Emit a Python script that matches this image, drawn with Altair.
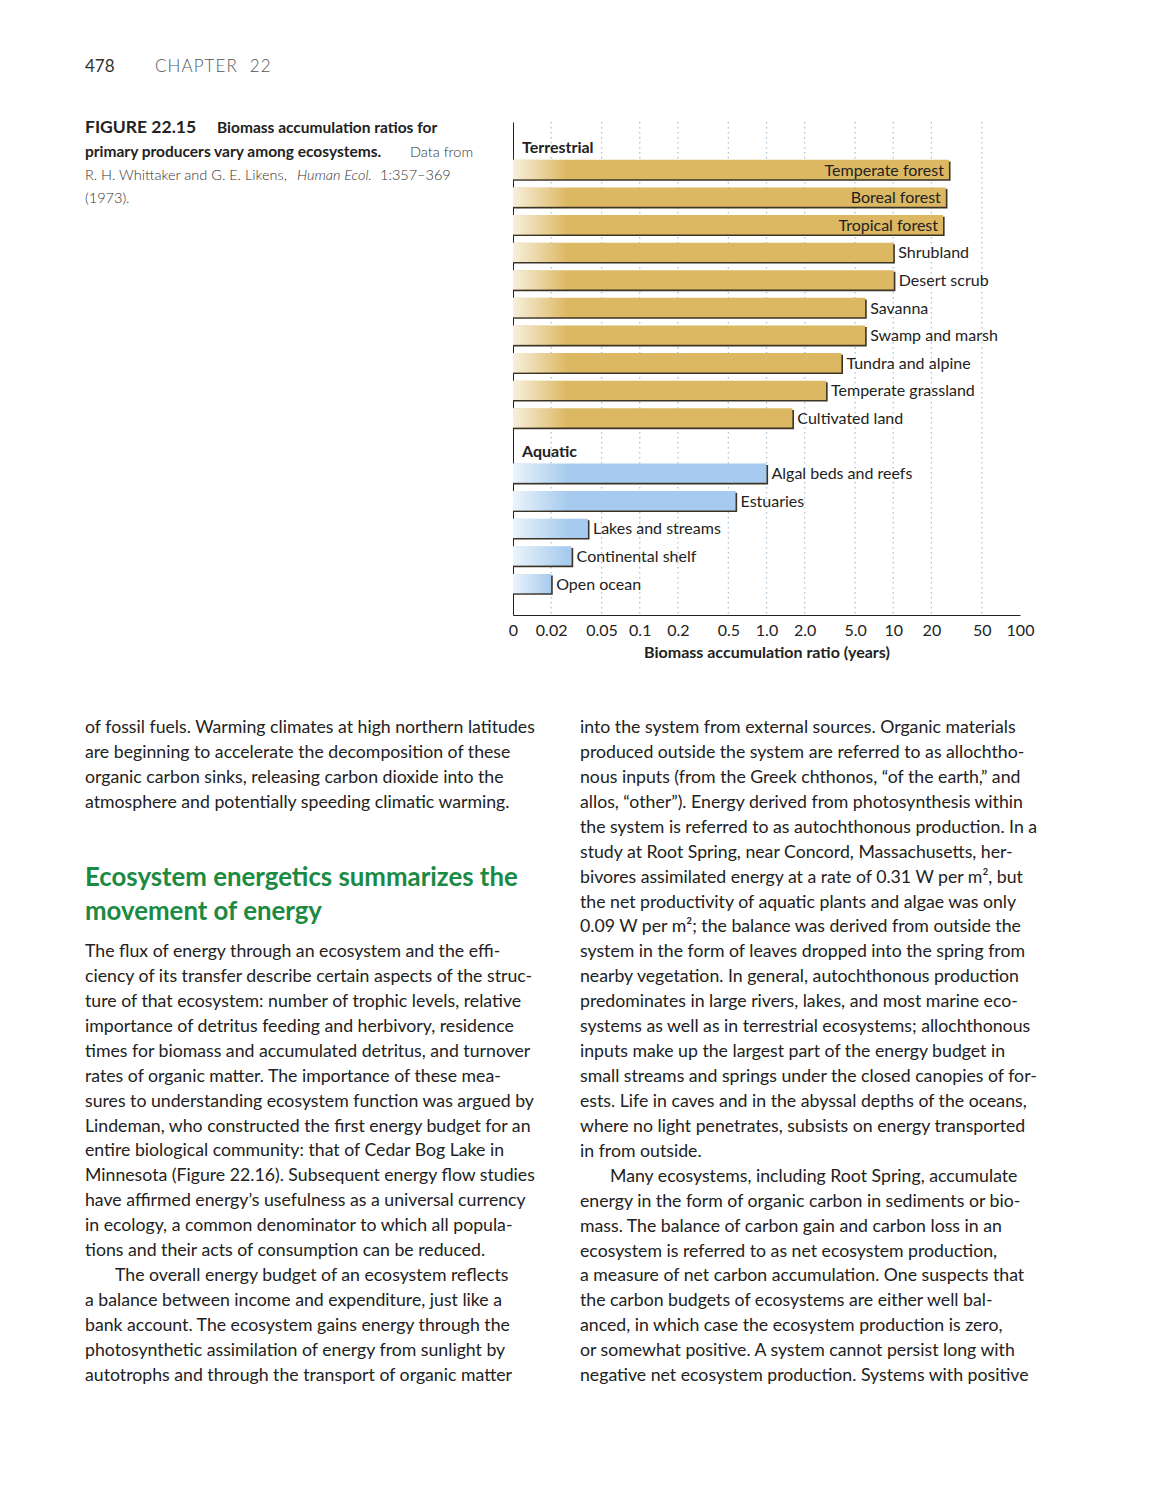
import altair as alt
import pandas as pd

# ---------------- data ----------------
terrestrial = ["Temperate forest", "Boreal forest", "Tropical forest", "Shrubland",
               "Desert scrub", "Savanna", "Swamp and marsh", "Tundra and alpine",
               "Temperate grassland", "Cultivated land"]
terrestrial_values = [27.5, 26.0, 24.7, 10.0, 10.1, 6.0, 6.0, 3.9, 2.95, 1.6]
aquatic = ["Algal beds and reefs", "Estuaries", "Lakes and streams",
           "Continental shelf", "Open ocean"]
aquatic_values = [1.0, 0.57, 0.039, 0.029, 0.020]
group_names = ["Terrestrial", "Aquatic"]

tick_values = [0.01, 0.02, 0.05, 0.1, 0.2, 0.5, 1.0, 2.0, 5.0, 10, 20, 50, 100]
tick_labels = ["0", "0.02", "0.05", "0.1", "0.2", "0.5", "1.0", "2.0", "5.0", "10", "20", "50", "100"]
grid_values = [0.02, 0.05, 0.1, 0.2, 0.5, 1.0, 2.0, 5.0, 10, 20, 50]

x_title = "Biomass accumulation ratio (years)"

page_number = "478"
chapter = "C\u200aH\u200aA\u200aP\u200aT\u200aE\u200aR\u2002 2\u200a2"

left_col_1 = [
    "of fossil fuels. Warming climates at high northern latitudes",
    "are beginning to accelerate the decomposition of these",
    "organic carbon sinks, releasing carbon dioxide into the",
    "atmosphere and potentially speeding climatic warming.",
]
heading = ["Ecosystem energetics summarizes the", "movement of energy"]
left_para_a = [
    "The flux of energy through an ecosystem and the effi-",
    "ciency of its transfer describe certain aspects of the struc-",
    "ture of that ecosystem: number of trophic levels, relative",
    "importance of detritus feeding and herbivory, residence",
    "times for biomass and accumulated detritus, and turnover",
    "rates of organic matter. The importance of these mea-",
    "sures to understanding ecosystem function was argued by",
    "Lindeman, who constructed the first energy budget for an",
    "entire biological community: that of Cedar Bog Lake in",
    "Minnesota (Figure 22.16). Subsequent energy flow studies",
    "have affirmed energy\u2019s usefulness as a universal currency",
    "in ecology, a common denominator to which all popula-",
    "tions and their acts of consumption can be reduced.",
]
left_para_b_first = "The overall energy budget of an ecosystem reflects"
left_para_b = [
    "a balance between income and expenditure, just like a",
    "bank account. The ecosystem gains energy through the",
    "photosynthetic assimilation of energy from sunlight by",
    "autotrophs and through the transport of organic matter",
]
right_para_a = [
    "into the system from external sources. Organic materials",
    "produced outside the system are referred to as allochtho-",
    "nous inputs (from the Greek chthonos, \u201cof the earth,\u201d and",
    "allos, \u201cother\u201d). Energy derived from photosynthesis within",
    "the system is referred to as autochthonous production. In a",
    "study at Root Spring, near Concord, Massachusetts, her-",
    "bivores assimilated energy at a rate of 0.31 W per m\u00b2, but",
    "the net productivity of aquatic plants and algae was only",
    "0.09 W per m\u00b2; the balance was derived from outside the",
    "system in the form of leaves dropped into the spring from",
    "nearby vegetation. In general, autochthonous production",
    "predominates in large rivers, lakes, and most marine eco-",
    "systems as well as in terrestrial ecosystems; allochthonous",
    "inputs make up the largest part of the energy budget in",
    "small streams and springs under the closed canopies of for-",
    "ests. Life in caves and in the abyssal depths of the oceans,",
    "where no light penetrates, subsists on energy transported",
    "in from outside.",
]
right_para_b_first = "Many ecosystems, including Root Spring, accumulate"
right_para_b = [
    "energy in the form of organic carbon in sediments or bio-",
    "mass. The balance of carbon gain and carbon loss in an",
    "ecosystem is referred to as net ecosystem production,",
    "a measure of net carbon accumulation. One suspects that",
    "the carbon budgets of ecosystems are either well bal-",
    "anced, in which case the ecosystem production is zero,",
    "or somewhat positive. A system cannot persist long with",
    "negative net ecosystem production. Systems with positive",
]

# ---------------- layout ----------------
W, H = 507, 493
PAGE_W, PAGE_H = 1156, 1484
PAD_L, PAD_T = 505, 114
LH = 24.93
BODY = 17.7

FONT = "Lato"
CAP_FONT = "Lato"
GOLD = "#dcb862"
BLUE = "#a6cbee"
SHADOW = "#3a3326"
TXT = "#222222"

df = pd.DataFrame({
    "name": terrestrial + aquatic,
    "value": terrestrial_values + aquatic_values,
    "group": [group_names[0]] * len(terrestrial) + [group_names[1]] * len(aquatic),
})
y_domain = [group_names[0]] + terrestrial + [group_names[1]] + aquatic

label_expr = " : ".join(
    f"datum.value == {v} ? '{l}'" for v, l in zip(tick_values, tick_labels)
) + " : ''"

xscale = alt.Scale(type="log", domain=[0.01, 100], nice=False)
yscale = alt.Scale(domain=y_domain, paddingInner=0.3, paddingOuter=0.58, align=0.32)

base = alt.Chart(df)

grid = alt.Chart(pd.DataFrame({"g": grid_values})).mark_rule(
    color="#a9c4d8", strokeDash=[1.5, 3.5], strokeWidth=1.3
).encode(x=alt.X("g:Q", scale=xscale))

shadow = base.mark_bar(color=SHADOW, xOffset=1.6, yOffset=1.6).encode(
    x=alt.X("value:Q", scale=xscale),
    x2=alt.datum(0.01),
    y=alt.Y("name:N", scale=yscale),
)

bars = base.mark_bar().encode(
    x=alt.X("value:Q", scale=xscale,
            axis=alt.Axis(values=tick_values, labelExpr=label_expr, ticks=False,
                          grid=False, domain=True, domainColor=TXT, domainWidth=1,
                          labelFont=FONT, labelFontSize=16, labelColor=TXT,
                          labelPadding=7, labelFlush=False, labelOverlap=False,
                          title=x_title, titleFont=FONT, titleFontSize=16,
                          titleFontWeight="bold", titleColor=TXT, titlePadding=6)),
    x2=alt.datum(0.01),
    y=alt.Y("name:N", scale=yscale,
            axis=alt.Axis(labels=False, ticks=False, grid=False, domain=True,
                          domainColor=TXT, domainWidth=1, title=None)),
    color=alt.Color("group:N", scale=alt.Scale(domain=group_names, range=[GOLD, BLUE]),
                    legend=None),
)

fade = alt.Gradient(
    gradient="linear", x1=0, x2=1, y1=0, y2=0,
    stops=[alt.GradientStop(color="rgba(255,255,255,0.78)", offset=0),
           alt.GradientStop(color="rgba(255,255,255,0)", offset=1)],
)
overlay = base.transform_calculate(ov="min(datum.value, 0.027)").mark_bar(fill=fade).encode(
    x=alt.X("ov:Q", scale=xscale),
    x2=alt.datum(0.01),
    y=alt.Y("name:N", scale=yscale),
)

lab_out = base.transform_filter("datum.value < 15").mark_text(
    align="left", baseline="middle", dx=5, dy=1, font=FONT, fontSize=16, color=TXT
).encode(x=alt.X("value:Q", scale=xscale), y=alt.Y("name:N", scale=yscale), text="name:N")

lab_in = base.transform_filter("datum.value >= 15").mark_text(
    align="right", baseline="middle", dx=-5, dy=1, font=FONT, fontSize=16, color=TXT
).encode(x=alt.X("value:Q", scale=xscale), y=alt.Y("name:N", scale=yscale), text="name:N")

headers = alt.Chart(pd.DataFrame({"h": group_names})).mark_text(
    align="left", baseline="middle", dy=6, font=FONT, fontSize=16, fontWeight="bold", color=TXT
).encode(x=alt.value(9), y=alt.Y("h:N", scale=yscale), text="h:N")


def page_text(lines, px, py, size, weight="normal", color=TXT, font=FONT,
              line_height=LH, style="normal"):
    d = pd.DataFrame({"t": ["\n".join(lines)]})
    return alt.Chart(d).mark_text(
        align="left", baseline="alphabetic", font=font, fontSize=size,
        fontWeight=weight, fontStyle=style, color=color, lineBreak="\n",
        lineHeight=line_height,
    ).encode(x=alt.value(px - 513), y=alt.value(py - 122), text="t:N")


lb = 957 + LH * len(left_para_a)
rb = 733 + LH * len(right_para_a)
annotations = [
    page_text([page_number], 85, 72, 17, color="#333333"),
    page_text([chapter], 155, 72, 17, color="#555555", weight=300),
    page_text(["FIGURE 22.15"], 85, 133, 17.5, weight="bold", font=CAP_FONT),
    page_text(["Biomass accumulation ratios for"], 217, 133, 15.5, weight="bold", font=CAP_FONT),
    page_text(["primary producers vary among ecosystems."], 85, 157, 15.5, weight="bold", font=CAP_FONT),
    page_text(["Data from"], 410, 157, 14.5, weight=300, font=CAP_FONT, color="#333333"),
    page_text(["R. H. Whittaker and G. E. Likens,"], 85, 180, 14.5, weight=300, font=CAP_FONT, color="#333333"),
    page_text(["Human Ecol."], 297, 180, 14.5, weight=300, font=CAP_FONT, color="#333333", style="italic"),
    page_text(["1:357\u2013369"], 380, 180, 14.5, weight=300, font=CAP_FONT, color="#333333"),
    page_text(["(1973)."], 85, 203, 14.5, weight=300, font=CAP_FONT, color="#333333"),
    page_text(left_col_1, 85, 733, BODY),
    page_text(heading, 85, 886, 25.8, weight="bold", color="#1b8a43", font=CAP_FONT, line_height=34),
    page_text(left_para_a, 85, 957, BODY),
    page_text([left_para_b_first], 115, lb, BODY),
    page_text(left_para_b, 85, lb + LH, BODY),
    page_text(right_para_a, 580, 733, BODY),
    page_text([right_para_b_first], 610, rb, BODY),
    page_text(right_para_b, 580, rb + LH, BODY),
]

chart = alt.layer(grid, shadow, bars, overlay, lab_out, lab_in, headers, *annotations).properties(
    width=W, height=H,
    autosize=alt.AutoSizeParams(type="none"),
    padding={"left": PAD_L, "top": PAD_T, "right": PAGE_W - PAD_L - W,
             "bottom": PAGE_H - PAD_T - H},
    background="white",
).configure_view(stroke=None)

chart.save("out.html", embed_options={"renderer": "svg", "actions": False})
